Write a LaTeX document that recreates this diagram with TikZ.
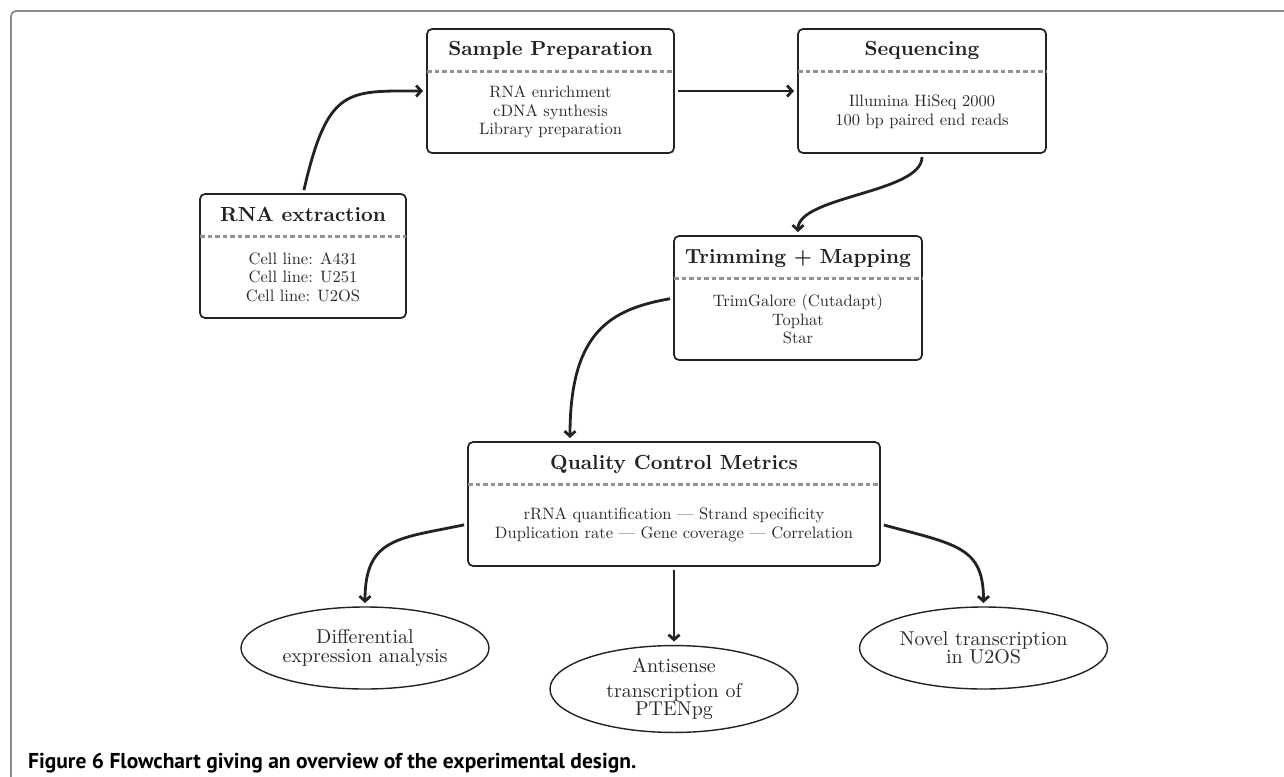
\documentclass[tikz,border=0pt]{standalone}
\usepackage{fontspec}
\setmainfont{lmroman10-regular.otf}[BoldFont=lmroman10-bold.otf]
\newfontfamily\capfont{PT Sans}
\usetikzlibrary{shapes.geometric,arrows.meta}
\definecolor{ink}{HTML}{222222}
\definecolor{bodyink}{HTML}{2A2A2A}
\definecolor{framec}{HTML}{8C8C8C}
\definecolor{dashc}{HTML}{929292}
\tikzset{
  fbox/.style={rectangle, draw=ink, line width=1.7pt, rounded corners=5pt, minimum height=124pt, inner sep=0pt, outer sep=0pt},
  ftitle/.style={font=\fontsize{20.4}{24}\selectfont\bfseries, text=ink, inner sep=0pt},
  fbody/.style={font=\fontsize{16.5}{18.5}\selectfont, text=bodyink, align=center, inner sep=0pt},
  fdash/.style={draw=dashc, line width=3pt, dash pattern=on 4.5pt off 3pt},
  fell/.style={ellipse, draw=ink, line width=1.4pt, minimum width=248pt, minimum height=82pt, inner sep=0pt, outer sep=0pt, font=\fontsize{20}{18.5}\selectfont, align=center, text=bodyink},
  farrow/.style={draw=ink, line width=2.8pt, -{Straight Barb[length=5pt,width=11pt]}, shorten <=4pt, shorten >=4pt},
}
\newcommand{\flowbox}[6]{%
  \node[fbox, minimum width=#4pt] (#1) at (#2, #3+62) {};
  \node[ftitle, anchor=base] (#1-t) at (#2, #3+27) {#5};
  \draw[fdash] ([yshift=-42pt]#1.north west) -- ([yshift=-42pt]#1.north east);
  \node[fbody] (#1-b) at (#2, #3+83) {#6};
}
\begin{document}
\begin{tikzpicture}[x=1pt,y=-1pt]
\useasboundingbox (0,0) rectangle (1284,776);
\fill[white] (0,0) rectangle (1284,776);
% frame
\draw[framec, line width=1.8pt, rounded corners=5pt] (1290,11) -- (11,11) -- (11,782);

\flowbox{rna}{303}{194}{206}{RNA extraction}{Cell line: A431\\Cell line: U251\\Cell line: U2OS}
\flowbox{samp}{550.5}{29}{247}{Sample Preparation}{RNA enrichment\\cDNA synthesis\\Library preparation}
\flowbox{seq}{922}{29}{248}{Sequencing}{Illumina HiSeq 2000\\100 bp paired end reads}
\flowbox{trim}{798}{236}{248}{Trimming + Mapping}{TrimGalore (Cutadapt)\\Tophat\\Star}
\flowbox{qc}{674}{442}{412}{Quality Control Metrics}{rRNA quantification --- Strand specificity\\Duplication rate --- Gene coverage --- Correlation}

\node[fell] (diff) at (365,648) {Differential\\expression analysis};
\node[fell] (anti) at (674,689) {Antisense\\[6pt]transcription of\\PTENpg};
\node[fell] (novel) at (983.5,648) {Novel transcription\\in U2OS};

\draw[farrow] (rna.north) .. controls +(77:110pt) and +(180:80pt) .. (samp.west);
\draw[farrow] (samp.east) -- (seq.west);
\draw[farrow] (seq.south) .. controls +(-90:40pt) and +(90:40pt) .. (trim.north);
\draw[farrow] (trim.west) .. controls +(190:65pt) and +(90:110pt) .. ([xshift=-104pt]qc.north);
\draw[farrow] ([yshift=-20pt]qc.west) .. controls +(192:70pt) and +(90:70pt) .. (diff.north);
\draw[farrow] ([yshift=-20pt]qc.east) .. controls +(-15:80pt) and +(90:60pt) .. (novel.north);
\draw[farrow] (qc.south) -- (anti.north);

\node[anchor=base west, inner sep=0pt, font=\capfont\bfseries\fontsize{21.5}{23}\selectfont] (cap) at (28,768) {Figure 6 Flowchart giving an overview of the experimental design.};
\end{tikzpicture}
\end{document}
